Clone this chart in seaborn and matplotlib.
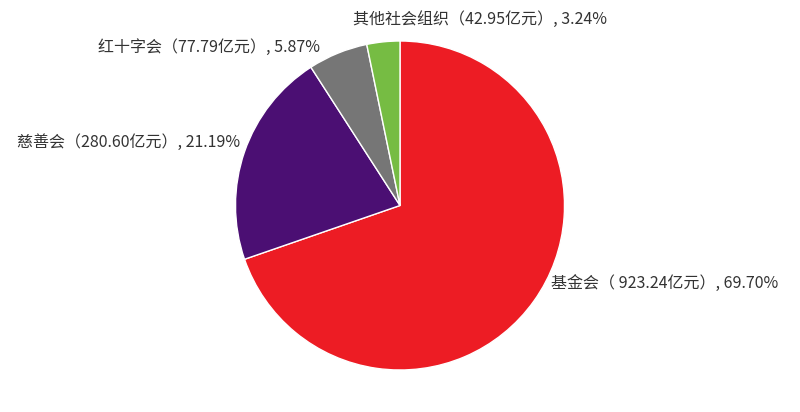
import matplotlib
matplotlib.use("Agg")
import matplotlib.pyplot as plt
import seaborn as sns

sns.set_theme(style="white")
plt.rcParams['font.family'] = ['Noto Sans CJK SC', 'DejaVu Sans']

# data
names = ["基金会", "慈善会", "红十字会", "其他社会组织"]
amounts = [923.24, 280.60, 77.79, 42.95]
shares = [69.70, 21.19, 5.87, 3.24]
colors = ["#ED1C24", "#4B0F73", "#767676", "#76BC43"]
labels = ["基金会（ 923.24亿元）, 69.70%",
          "慈善会（280.60亿元）, 21.19%",
          "红十字会（77.79亿元）, 5.87%",
          "其他社会组织（42.95亿元）, 3.24%"]

fig = plt.figure(figsize=(8, 4.12), dpi=100)
ax = fig.add_axes([0, 0, 1, 1])
ax.pie(shares, colors=colors, startangle=90, counterclock=False,
       center=(400, 206.5), radius=164.5,
       wedgeprops=dict(edgecolor="white", linewidth=1))
ax.set_xlim(0, 800)
ax.set_ylim(0, 412)
ax.set_aspect("equal")
ax.axis("off")

# label placement (pixel coords, y from top)
label_pos = [(551, 283, "left"), (240, 142, "right"), (320, 47, "right"), (353, 19, "left")]
for lab, (x, y, ha) in zip(labels, label_pos):
    ax.text(x, 412 - y, lab, ha=ha, va="center", fontsize=11.5,
            color="#333333", fontweight="medium")

fig.savefig("out.png", dpi=100)
